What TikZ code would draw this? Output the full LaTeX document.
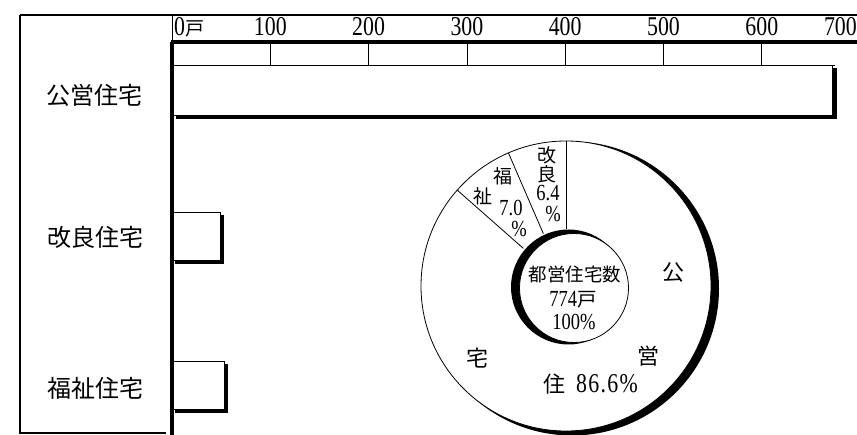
\documentclass[tikz,border=0pt]{standalone}
\usepackage{fontspec}
\setmainfont{Liberation Serif}
\newfontfamily\cjk{Noto Sans CJK JP}
\newcommand\tallnum[1]{\scalebox{0.95}[1.18]{#1}}
\begin{document}
\begin{tikzpicture}[x=1pt,y=-1pt,
  lbl/.style={inner sep=0pt,font=\cjk\fontsize{24}{26}\selectfont},
  num/.style={inner sep=0pt,font=\fontsize{23}{24}\selectfont},
  pie/.style={inner sep=0pt,font=\fontsize{19.5}{20}\selectfont},
  piecjk/.style={inner sep=0pt,font=\cjk\fontsize{19}{20}\selectfont},
  piebig/.style={inner sep=0pt,font=\cjk\fontsize{22}{24}\selectfont},
  shadow/.style={fill=black},
  barbox/.style={fill=white,draw=black,line width=0.8pt}]
\useasboundingbox (0,0) rectangle (857,435);
% frame
\draw[line width=1.2pt] (20,15) -- (857,15);
\draw[line width=1.2pt] (20,15) -- (20,433) -- (166,433);
\draw[line width=1pt] (172,15) -- (172,42);
\draw[line width=3.5pt] (170.5,42) -- (857,42);
\draw[line width=0.8pt] (172,65) -- (835,65);
\foreach \i in {1,...,6} \draw[line width=0.8pt] (172+98.3*\i,42) -- ++(0,23);
\foreach \i in {1,...,6} \node[num] at (172+98.3*\i,27) {\tallnum{\i00}};
\node[num,anchor=west] at (174,27) {\tallnum{0}{\cjk\fontsize{19}{20}\selectfont 戸}};
\node[num,anchor=east] at (857,27) {\tallnum{700}};
% bars
\fill[shadow] (176,68) rectangle (837,119);
\draw[barbox] (172,65) rectangle (832,115);
\fill[shadow] (175,215) rectangle (224,264);
\draw[barbox] (172,212) rectangle (220,260);
\fill[shadow] (175,364) rectangle (228,413);
\draw[barbox] (172,361) rectangle (224,409);
\draw[line width=4pt] (172,42) -- (172,435);
% labels
\node[lbl] (k) at (94,95) {公営住宅};
\node[lbl] (g) at (95,237) {改良住宅};
\node[lbl] (f) at (95,388) {福祉住宅};
% pie
\fill[shadow] (572,288.5) circle (147);
\draw[fill=white,line width=0.8pt] (566,286) circle (145);
\draw[line width=0.8pt] (566,286) ++(-90:57) -- ++(-90:88);
\draw[line width=0.8pt] (566,286) ++(-113.4:57) -- ++(-113.4:88);
\draw[line width=0.8pt] (566,286) ++(-138.6:57) -- ++(-138.6:88);
\fill[shadow] (568.5,287) circle (57.5);
\draw[fill=white,line width=0.8pt] (574,288) circle (54.5);
% pie texts
\node[piecjk,font=\cjk\fontsize{18.5}{20}\selectfont] at (575,274) {都営住宅数};
\node[pie] at (573,300) {\tallnum{774}{\cjk 戸}};
\node[pie] at (574,322) {\tallnum{100\%}};
\node[piebig] at (673,273) {公};
\node[piebig] at (648,356) {営};
\node[piebig] at (477,358) {宅};
\node[piebig,anchor=west] at (543,384) {住};
\node[pie,anchor=west,font=\fontsize{23}{24}\selectfont\addfontfeature{LetterSpace=6}] at (576,384) {\tallnum{86.6\%}};
\node[piecjk] at (547,155) {改};
\node[piecjk] at (547,174) {良};
\node[pie] at (548,193) {\tallnum{6.4}};
\node[pie] at (553,214) {\tallnum{\%}};
\node[piecjk] at (503,176) {福};
\node[piecjk] at (483,196) {祉};
\node[pie] at (511,208) {\tallnum{7.0}};
\node[pie] at (519,229) {\tallnum{\%}};
\end{tikzpicture}
\end{document}
